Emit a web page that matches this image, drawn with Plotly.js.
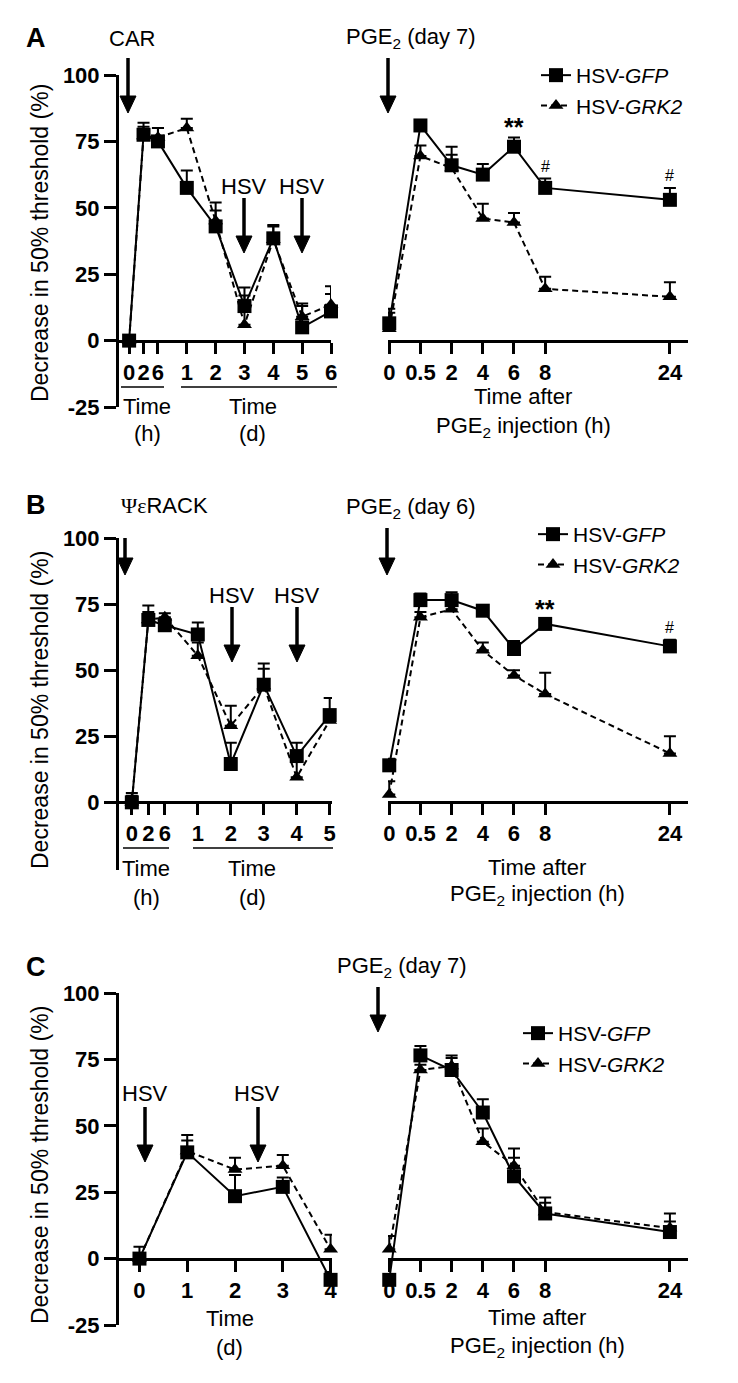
<!DOCTYPE html>
<html>
<head>
<meta charset="utf-8">
<script src="https://cdn.plot.ly/plotly-3.0.1.min.js"></script>
<style>
  html, body { margin: 0; padding: 0; background: #fff; }
  #chart { width: 738px; height: 1383px; }
</style>
</head>
<body>
<div id="chart"></div>
<script>
// ── data ──────────────────────────────
// left panels: hours 0/2/6 sit at 0, 0.5, 1 ; days follow at day+1
const aLeftX = [0, 0.5, 1, 2, 3, 4, 5, 6, 7];
const aLeftTicks = ['0', '2', '6', '1', '2', '3', '4', '5', '6'];
const aLeftGfp = [0, 77.5, 75, 57.5, 43, 13, 38.5, 5, 11];
const aLeftGfpErr = [1, 4.5, 5, 6.5, 6, 7, 5, 9, 9.5];
const aLeftGrk = [0, 77, 76.5, 80, 45, 6, 38, 9, 13.5];
const aLeftGrkErr = [1, 3.5, 3.5, 3.5, 7, 11, 5, 4, 4];

const bLeftX = [0, 0.5, 1, 2, 3, 4, 5, 6];
const bLeftTicks = ['0', '2', '6', '1', '2', '3', '4', '5'];
const bLeftGfp = [0, 69, 67, 63.5, 14.5, 44.5, 17.5, 33];
const bLeftGfpErr = [3.5, 5.5, 2.5, 4.5, 8, 8, 5, 6.5];
const bLeftGrk = [0, 69, 70, 55.5, 29, 44, 9.5, 31];
const bLeftGrkErr = [2.5, 3, 1.5, 5, 7.5, 6.5, 9, 3.5];

const cLeftX = [0, 1, 2, 3, 4];
const cLeftTicks = ['0', '1', '2', '3', '4'];
const cLeftGfp = [0, 40, 23.5, 27, -8];
const cLeftGfpErr = [4.5, 4.5, 8, 3.5, 3];
const cLeftGrk = [0, 40.5, 33.5, 35, 3.5];
const cLeftGrkErr = [1, 6, 4.5, 4, 5.5];

// right panels: hours after PGE2
const rightX = [0, 1, 2, 3, 4, 5, 9];
const rightTicks = ['0', '0.5', '2', '4', '6', '8', '24'];

const aRightGfp = [6.5, 81, 66, 62.5, 73, 57.5, 53];
const aRightGfpErr = [5.5, 1.5, 7, 4, 3.5, 3.5, 4.5];
const aRightGrk = [4.5, 69.5, 65, 46, 44.5, 19.5, 16.5];
const aRightGrkErr = [6, 4, 5, 5.5, 3.5, 4.5, 5.5];
const aRightSig = ['', '', '', '', '**', '#', '#'];

const bRightGfp = [14, 76.5, 76.5, 72.5, 58, 67.5, 59];
const bRightGfpErr = [2.5, 2.5, 3, 1.5, 3, 2, 2.5];
const bRightGrk = [3, 70, 73, 57.5, 48, 41, 18.5];
const bRightGrkErr = [5, 2, 2, 3, 2, 8, 6.5];
const bRightSig = ['', '', '', '', '', '**', '#'];

const cRightGfp = [-8, 76.5, 71, 55, 31, 17, 10];
const cRightGfpErr = [1, 3.5, 5.5, 5, 10.5, 6, 4];
const cRightGrk = [3.5, 71, 72.5, 44, 35, 17.5, 11.5];
const cRightGrkErr = [5, 2, 3, 5, 3, 3.5, 5.5];
const cRightSig = ['', '', '', '', '', '', ''];

const yTicksFull = [-25, 0, 25, 50, 75, 100];
const yTicksNoNeg = [0, 25, 50, 75, 100];

// ── helpers ───────────────────────────
const W = 738, H = 1383;
const FONT = 'Liberation Sans, Arial, Helvetica, sans-serif';
const px = v => v / W;
const py = v => 1 - v / H;
const tickFont = { family: FONT, size: 22, color: 'black', weight: 'bold' };

function pair(xs, gfp, gfpErr, grk, grkErr, xa, ya, legendId) {
  const base = { type: 'scatter', mode: 'lines+markers', xaxis: xa, yaxis: ya,
    cliponaxis: false, hoverinfo: 'skip', showlegend: !!legendId };
  if (legendId) base.legend = legendId;
  const err = (arr) => ({ type: 'data', symmetric: false, array: arr,
    arrayminus: arr.map(() => 0), color: 'black', thickness: 2, width: 6 });
  return [
    { ...base, x: xs, y: grk, name: 'HSV-<i>GRK2</i>', legendrank: 2,
      line: { color: 'black', width: 2, dash: '6px,4px' },
      marker: { symbol: 'triangle-up', size: 13, color: 'black' },
      error_y: err(grkErr) },
    { ...base, x: xs, y: gfp, name: 'HSV-<i>GFP</i>', legendrank: 1,
      line: { color: 'black', width: 2 },
      marker: { symbol: 'square', size: 14, color: 'black' },
      error_y: err(gfpErr) }
  ];
}

function yLeft(top, bottom, range, tickvals) {
  return { domain: [py(bottom), py(top)], range, anchor: 'free', position: px(117),
    showline: true, linewidth: 3, linecolor: 'black', ticks: 'outside', ticklen: 12,
    tickwidth: 3, tickcolor: 'black', tickvals, ticktext: tickvals.map(String),
    tickfont: tickFont, showgrid: false, zeroline: false, fixedrange: true };
}
function yHidden(top, bottom, range, xa) {
  return { domain: [py(bottom), py(top)], range, anchor: xa, visible: false, fixedrange: true };
}
function xAxis(left, right, range, tickvals, ticktext, zeroY) {
  return { domain: [px(left), px(right)], range, anchor: 'free', position: py(zeroY),
    side: 'bottom', showline: true, linewidth: 3, linecolor: 'black', ticks: 'outside',
    ticklen: 11, tickwidth: 3, tickcolor: 'black', tickvals, ticktext, tickfont: tickFont,
    showgrid: false, zeroline: false, fixedrange: true };
}

function txt(x, y, text, size, extra) {
  return Object.assign({ xref: 'paper', yref: 'paper', x: px(x), y: py(y), text,
    showarrow: false, xanchor: 'center', yanchor: 'middle',
    font: { family: FONT, size, color: 'black' } }, extra || {});
}
// downward arrow: shaft line + filled head
function arrow(x, yTail, yTip) {
  const head = 17, half = 8;
  return [
    { type: 'line', xref: 'paper', yref: 'paper', x0: px(x), x1: px(x),
      y0: py(yTail), y1: py(yTip - head + 2), line: { color: 'black', width: 3.5 } },
    { type: 'path', xref: 'paper', yref: 'paper', fillcolor: 'black',
      line: { color: 'black', width: 1 },
      path: `M ${px(x - half)},${py(yTip - head)} L ${px(x + half)},${py(yTip - head)} L ${px(x)},${py(yTip)} Z` }
  ];
}
function sigNotes(xs, vals, errs, sig, xa, ya) {
  const out = [];
  sig.forEach((s, i) => {
    if (!s) return;
    const star = s === '**';
    out.push({ xref: xa, yref: ya, x: xs[i], y: vals[i] + errs[i], text: s,
      showarrow: false, xanchor: 'center', yanchor: 'bottom', yshift: star ? -6 : 2,
      font: { family: FONT, size: star ? 25 : 16, color: 'black', weight: star ? 'bold' : 'normal' } });
  });
  return out;
}
function underline(y, x0, x1) {
  return { type: 'line', xref: 'paper', yref: 'paper', x0: px(x0), x1: px(x1),
    y0: py(y), y1: py(y), line: { color: 'black', width: 1.5 } };
}

// ── traces ────────────────────────────
const traces = [
  ...pair(aLeftX, aLeftGfp, aLeftGfpErr, aLeftGrk, aLeftGrkErr, 'x', 'y'),
  ...pair(rightX, aRightGfp, aRightGfpErr, aRightGrk, aRightGrkErr, 'x2', 'y2', 'legend'),
  ...pair(bLeftX, bLeftGfp, bLeftGfpErr, bLeftGrk, bLeftGrkErr, 'x3', 'y3'),
  ...pair(rightX, bRightGfp, bRightGfpErr, bRightGrk, bRightGrkErr, 'x4', 'y4', 'legend2'),
  ...pair(cLeftX, cLeftGfp, cLeftGfpErr, cLeftGrk, cLeftGrkErr, 'x5', 'y5'),
  ...pair(rightX, cRightGfp, cRightGfpErr, cRightGrk, cRightGrkErr, 'x6', 'y6', 'legend3')
];

const yTitle = 'Decrease in 50% threshold (%)';
const pge = (d) => 'PGE<sub>2</sub> (day ' + d + ')';
const rightRange = [-0.04, 9.58];
const legendBase = { bgcolor: 'rgba(0,0,0,0)', borderwidth: 0, xanchor: 'left', yanchor: 'top',
  font: { family: FONT, size: 21, color: 'black' }, tracegroupgap: 0, itemclick: false };

const layout = {
  width: W, height: H,
  margin: { l: 0, r: 0, t: 0, b: 0 },
  paper_bgcolor: 'white', plot_bgcolor: 'rgba(0,0,0,0)',
  font: { family: FONT, color: 'black' },
  // panel A
  xaxis: xAxis(117, 331, [-0.42, 7.0], aLeftX, aLeftTicks, 341),
  yaxis: yLeft(75, 407, [-25, 100], yTicksFull),
  xaxis2: xAxis(388, 688, rightRange, rightX, rightTicks, 341),
  yaxis2: yHidden(75, 407, [-25, 100], 'x2'),
  // panel B
  xaxis3: xAxis(117, 332, [-0.45, 6.07], bLeftX, bLeftTicks, 802),
  yaxis3: yLeft(538, 870, [-25.6, 100], yTicksNoNeg),
  xaxis4: xAxis(388, 688, rightRange, rightX, rightTicks, 802),
  yaxis4: yHidden(538, 870, [-25.6, 100], 'x4'),
  // panel C
  xaxis5: xAxis(117, 332, [-0.47, 4.03], cLeftX, cLeftTicks, 1259),
  yaxis5: yLeft(993, 1325, [-25, 100], yTicksFull),
  xaxis6: xAxis(388, 688, rightRange, rightX, rightTicks, 1259),
  yaxis6: yHidden(993, 1325, [-25, 100], 'x6'),

  legend: { ...legendBase, x: px(536), y: py(55) },
  legend2: { ...legendBase, x: px(533), y: py(514) },
  legend3: { ...legendBase, x: px(518), y: py(1013) },

  shapes: [
    underline(387, 121, 164), underline(387, 181, 337),
    underline(848, 123, 169), underline(848, 193, 333),
    ...arrow(128, 58, 113), ...arrow(388, 58, 113),
    ...arrow(244, 198, 253), ...arrow(302, 198, 253),
    ...arrow(125, 538, 575), ...arrow(387, 528, 575),
    ...arrow(232, 607, 662), ...arrow(297, 607, 662),
    ...arrow(378, 987, 1032),
    ...arrow(145, 1107, 1162), ...arrow(258, 1107, 1162)
  ],

  annotations: [
    // panel A
    txt(36, 38, '<b>A</b>', 27),
    txt(132, 38, 'CAR', 22),
    txt(411, 38, pge(7), 22),
    txt(244, 187, 'HSV', 22),
    txt(302, 187, 'HSV', 22),
    txt(40, 243, yTitle, 23, { textangle: -90 }),
    txt(147, 407, 'Time', 22), txt(147, 433, '(h)', 22),
    txt(253, 407, 'Time', 22), txt(253, 433, '(d)', 22),
    txt(523, 397, 'Time after', 22), txt(523, 427, 'PGE<sub>2</sub> injection (h)', 22),
    ...sigNotes(rightX, aRightGfp, aRightGfpErr, aRightSig, 'x2', 'y2'),
    // panel B
    txt(36, 505, '<b>B</b>', 27),
    txt(164, 505, '<span style="font-family:Liberation Serif,serif">Ψε</span>RACK', 22),
    txt(411, 508, pge(6), 22),
    txt(232, 595, 'HSV', 22),
    txt(297, 595, 'HSV', 22),
    txt(40, 710, yTitle, 23, { textangle: -90 }),
    txt(146, 868, 'Time', 22), txt(146, 897, '(h)', 22),
    txt(252, 868, 'Time', 22), txt(252, 897, '(d)', 22),
    txt(537, 867, 'Time after', 22), txt(537, 895, 'PGE<sub>2</sub> injection (h)', 22),
    ...sigNotes(rightX, bRightGfp, bRightGfpErr, bRightSig, 'x4', 'y4'),
    // panel C
    txt(36, 967, '<b>C</b>', 27),
    txt(402, 967, pge(7), 22),
    txt(145, 1093, 'HSV', 22),
    txt(257, 1093, 'HSV', 22),
    txt(40, 1165, yTitle, 23, { textangle: -90 }),
    txt(230, 1318, 'Time', 22), txt(230, 1347, '(d)', 22),
    txt(537, 1317, 'Time after', 22), txt(537, 1347, 'PGE<sub>2</sub> injection (h)', 22),
    ...sigNotes(rightX, cRightGfp, cRightGfpErr, cRightSig, 'x6', 'y6')
  ]
};

Plotly.newPlot('chart', traces, layout, { staticPlot: true, displayModeBar: false });
</script>
</body>
</html>
